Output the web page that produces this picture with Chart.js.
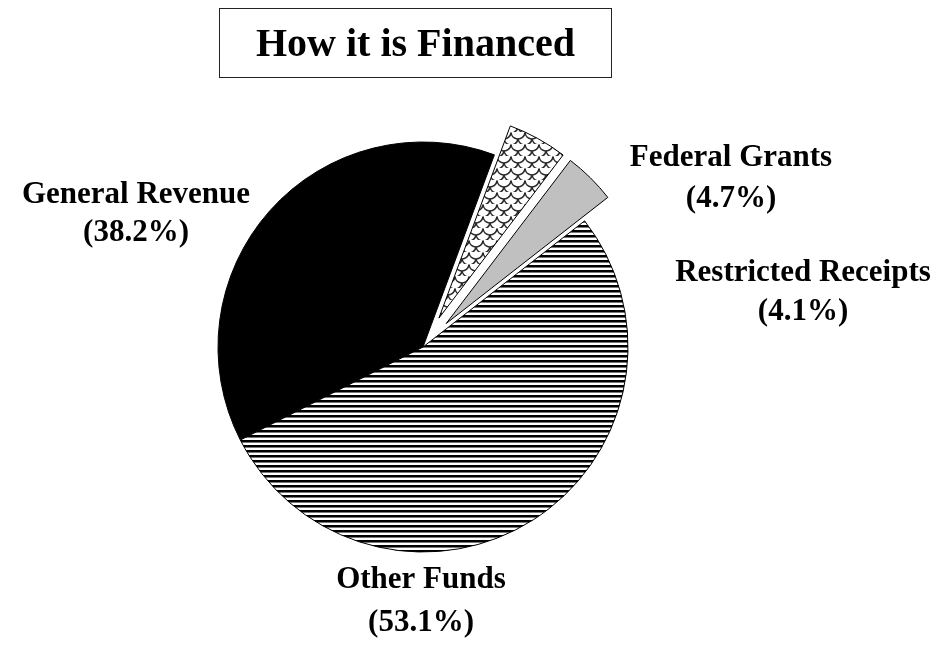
<!DOCTYPE html>
<html>
<head>
<meta charset="utf-8">
<script src="https://cdn.jsdelivr.net/npm/chart.js@4"></script>
<style>
  html, body { margin: 0; padding: 0; background: #fff; }
  #wrap { position: relative; width: 945px; height: 657px; }
  #chart { position: absolute; left: 0; top: 0; }
  #title {
    position: absolute; left: 219px; top: 8px; height: 68px;
    padding: 0 36px; border: 1px solid #222;
    font: bold 40px "Liberation Serif", "Times New Roman", serif;
    line-height: 68px; color: #000; white-space: nowrap;
  }
</style>
</head>
<body>
<div id="wrap">
  <canvas id="chart" width="945" height="657"></canvas>
  <div id="title">How it is Financed</div>
</div>
<script>
const categories = ["General Revenue", "Federal Grants", "Restricted Receipts", "Other Funds"];
const shares = [38.2, 4.7, 4.1, 53.1];
const pctLabels = ["(38.2%)", "(4.7%)", "(4.1%)", "(53.1%)"];

// label placement, pixel centres of the two text lines
const labelPos = [
  { x: 136, y1: 195, y2: 233 },
  { x: 731, y1: 158, y2: 199 },
  { x: 803, y1: 273, y2: 312 },
  { x: 421, y1: 580, y2: 623 },
];
const explode = [0, 33, 33, 0];

const makeStripes = function () {
  const c = document.createElement("canvas");
  c.width = 4; c.height = 5;
  const g = c.getContext("2d");
  g.fillStyle = "#fff"; g.fillRect(0, 0, 4, 5);
  g.fillStyle = "#000"; g.fillRect(0, 0, 4, 2);
  g.fillStyle = "#777"; g.fillRect(0, 2, 4, 1);
  return g.createPattern(c, "repeat");
};

// scale / chain-link mesh for the federal grants slice
const makeMesh = function () {
  const w = 14, h = 12;
  const c = document.createElement("canvas");
  c.width = w; c.height = h;
  const g = c.getContext("2d");
  g.fillStyle = "#fff"; g.fillRect(0, 0, w, h);
  g.strokeStyle = "#2a2a2a"; g.lineWidth = 1.5;
  const centres = [[0, 0], [w, 0], [w / 2, h / 2], [0, h], [w, h]];
  centres.forEach(([x, y]) => {
    g.beginPath();
    g.arc(x, y, w / 2, 0.1, Math.PI - 0.1);
    g.stroke();
  });
  return g.createPattern(c, "repeat");
};

const explodePlugin = {
  id: "explode",
  afterDatasetUpdate(chart, args) {
    const meta = chart.getDatasetMeta(args.index);
    meta.data.forEach((arc, i) => {
      const d = explode[i];
      if (!d) return;
      const mid = (arc.startAngle + arc.endAngle) / 2;
      arc.x += Math.cos(mid) * d;
      arc.y += Math.sin(mid) * d;
    });
  },
};

const labelPlugin = {
  id: "pieLabels",
  afterDatasetsDraw(chart) {
    const ctx = chart.ctx;
    ctx.save();
    ctx.fillStyle = "#000";
    ctx.font = 'bold 31px "Liberation Serif", "Times New Roman", serif';
    ctx.textAlign = "center";
    ctx.textBaseline = "middle";
    categories.forEach((name, i) => {
      const p = labelPos[i];
      ctx.fillText(name, p.x, p.y1);
      ctx.fillText(pctLabels[i], p.x, p.y2);
    });
    ctx.restore();
  },
};

const ctx = document.querySelector("#chart").getContext("2d");
new Chart(ctx, {
  type: "pie",
  data: {
    labels: categories,
    datasets: [
      {
        data: shares,
        backgroundColor: ["#000", makeMesh(), "#c0c0c0", makeStripes()],
        borderColor: "#000",
        borderWidth: 1,
        clip: false,
      },
    ],
  },
  options: {
    responsive: false,
    animation: false,
    events: [],
    rotation: 243,
    radius: 205,
    layout: { padding: { left: 0, right: 99, top: 37, bottom: 0 } },
    plugins: {
      legend: { display: false },
      tooltip: { enabled: false },
      title: { display: false },
    },
  },
  plugins: [explodePlugin, labelPlugin],
});
</script>
</body>
</html>
